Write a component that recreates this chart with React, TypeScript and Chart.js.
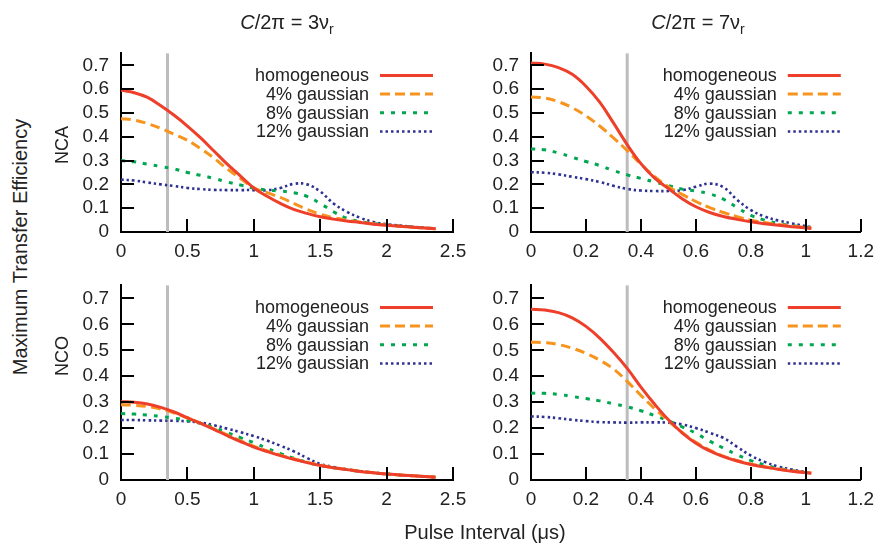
import React, { useEffect, useRef } from "react";
import { Chart, registerables } from "chart.js";
Chart.register(...registerables);

// ---------- data ----------
const seriesLabels = ["homogeneous", "4% gaussian", "8% gaussian", "12% gaussian"];

const xLeft = [0, 0.1, 0.2, 0.3, 0.4, 0.5, 0.6, 0.7, 0.8, 0.9, 1.0, 1.1, 1.2, 1.3, 1.4, 1.5, 1.6, 1.7, 1.8, 1.9, 2.0, 2.2, 2.37];
const xRight = [0, 0.05, 0.1, 0.15, 0.2, 0.25, 0.3, 0.35, 0.4, 0.45, 0.5, 0.55, 0.6, 0.65, 0.7, 0.75, 0.8, 0.85, 0.9, 0.95, 1.02];

const ncaSlowHom = [0.595, 0.585, 0.565, 0.530, 0.490, 0.445, 0.395, 0.340, 0.285, 0.235, 0.185, 0.150, 0.120, 0.095, 0.078, 0.064, 0.054, 0.046, 0.040, 0.033, 0.028, 0.020, 0.014];
const ncaSlowG4 = [0.476, 0.470, 0.455, 0.435, 0.410, 0.385, 0.350, 0.310, 0.265, 0.225, 0.185, 0.165, 0.145, 0.120, 0.095, 0.075, 0.060, 0.050, 0.042, 0.035, 0.029, 0.020, 0.014];
const ncaSlowG8 = [0.300, 0.295, 0.285, 0.275, 0.265, 0.250, 0.238, 0.225, 0.210, 0.197, 0.185, 0.176, 0.172, 0.165, 0.150, 0.120, 0.085, 0.058, 0.044, 0.036, 0.030, 0.021, 0.014];
const ncaSlowG12 = [0.220, 0.216, 0.208, 0.200, 0.193, 0.185, 0.180, 0.177, 0.176, 0.176, 0.176, 0.175, 0.185, 0.202, 0.200, 0.170, 0.120, 0.085, 0.060, 0.042, 0.033, 0.022, 0.014];

const ncaFastHom = [0.710, 0.705, 0.690, 0.662, 0.612, 0.545, 0.458, 0.367, 0.287, 0.226, 0.182, 0.140, 0.106, 0.082, 0.065, 0.053, 0.043, 0.035, 0.028, 0.022, 0.015];
const ncaFastG4 = [0.567, 0.563, 0.547, 0.522, 0.488, 0.445, 0.395, 0.342, 0.285, 0.232, 0.190, 0.158, 0.128, 0.102, 0.082, 0.064, 0.050, 0.040, 0.032, 0.025, 0.017];
const ncaFastG8 = [0.349, 0.345, 0.332, 0.314, 0.296, 0.279, 0.258, 0.240, 0.225, 0.210, 0.195, 0.180, 0.172, 0.160, 0.138, 0.103, 0.070, 0.050, 0.036, 0.027, 0.018];
const ncaFastG12 = [0.251, 0.249, 0.242, 0.232, 0.222, 0.210, 0.194, 0.181, 0.174, 0.172, 0.172, 0.175, 0.190, 0.203, 0.188, 0.135, 0.092, 0.065, 0.048, 0.036, 0.020];

const ncoSlowHom = [0.302, 0.300, 0.293, 0.280, 0.262, 0.240, 0.218, 0.195, 0.171, 0.148, 0.127, 0.110, 0.094, 0.080, 0.067, 0.056, 0.047, 0.040, 0.033, 0.028, 0.023, 0.016, 0.011];
const ncoSlowG4 = [0.290, 0.288, 0.283, 0.273, 0.258, 0.239, 0.219, 0.197, 0.174, 0.151, 0.130, 0.112, 0.096, 0.082, 0.069, 0.058, 0.048, 0.041, 0.034, 0.028, 0.023, 0.016, 0.011];
const ncoSlowG8 = [0.256, 0.254, 0.250, 0.245, 0.238, 0.230, 0.218, 0.202, 0.183, 0.163, 0.144, 0.122, 0.102, 0.084, 0.068, 0.056, 0.047, 0.040, 0.033, 0.028, 0.023, 0.016, 0.011];
const ncoSlowG12 = [0.231, 0.231, 0.230, 0.229, 0.228, 0.226, 0.221, 0.211, 0.198, 0.184, 0.169, 0.152, 0.132, 0.111, 0.085, 0.062, 0.050, 0.041, 0.034, 0.028, 0.023, 0.016, 0.011];

const ncoFastHom = [0.658, 0.655, 0.645, 0.625, 0.592, 0.547, 0.492, 0.430, 0.358, 0.292, 0.232, 0.182, 0.142, 0.112, 0.090, 0.073, 0.060, 0.050, 0.041, 0.034, 0.026];
const ncoFastG4 = [0.531, 0.529, 0.522, 0.508, 0.488, 0.462, 0.428, 0.380, 0.326, 0.275, 0.228, 0.183, 0.145, 0.115, 0.092, 0.075, 0.062, 0.051, 0.042, 0.035, 0.027];
const ncoFastG8 = [0.335, 0.334, 0.330, 0.322, 0.314, 0.305, 0.294, 0.282, 0.267, 0.248, 0.228, 0.205, 0.180, 0.150, 0.123, 0.097, 0.075, 0.058, 0.045, 0.036, 0.026];
const ncoFastG12 = [0.245, 0.243, 0.238, 0.232, 0.227, 0.223, 0.222, 0.221, 0.222, 0.222, 0.221, 0.214, 0.200, 0.182, 0.162, 0.128, 0.094, 0.070, 0.052, 0.040, 0.027];

const xTicksLeft = [0, 0.5, 1, 1.5, 2, 2.5];
const xTicksRight = [0, 0.2, 0.4, 0.6, 0.8, 1, 1.2];
const yTicks = [0, 0.1, 0.2, 0.3, 0.4, 0.5, 0.6, 0.7];
const markerX = 0.35;

// ---------- styles ----------
const FONT = '"Liberation Sans", Arial, Helvetica, sans-serif';
const colors = ["#ee3f2a", "#f7941d", "#00a651", "#2e3192"];
const dashes: number[][] = [[], [10, 5], [4, 7], [2.5, 3]];
const widths = [3, 3, 3, 2.6];

type PanelProps = {
  xs: number[];
  series: number[][];
  xTicks: number[];
  xMax: number;
  box: { left: number; top: number; width: number; height: number };
  area: { left: number; top: number; right: number; bottom: number };
};

function Panel({ xs, series, xTicks, xMax, box, area }: PanelProps) {
  const ref = useRef<HTMLCanvasElement | null>(null);
  useEffect(() => {
    if (!ref.current) return;
    const yAxisW = area.left - box.left;
    const xAxisH = box.top + box.height - area.bottom;
    const padTop = area.top - box.top;
    const padRight = box.left + box.width - area.right;

    const decor = {
      id: "decor",
      beforeDatasetsDraw(chart: any) {
        const { ctx, chartArea: a, scales } = chart;
        const px = scales.x.getPixelForValue(markerX);
        ctx.save();
        ctx.strokeStyle = "#bdbdbd";
        ctx.lineWidth = 3;
        ctx.beginPath();
        ctx.moveTo(px, a.top);
        ctx.lineTo(px, a.bottom);
        ctx.stroke();
        ctx.restore();
      },
      afterDraw(chart: any) {
        const { ctx, chartArea: a, scales } = chart;
        ctx.save();
        ctx.strokeStyle = "#000";
        ctx.lineWidth = 2;
        ctx.beginPath();
        scales.x.ticks.forEach((t: any) => {
          if (t.value === 0) return;
          const px = Math.round(scales.x.getPixelForValue(t.value));
          ctx.moveTo(px, a.bottom);
          ctx.lineTo(px, a.bottom - 13);
        });
        scales.y.ticks.forEach((t: any) => {
          if (t.value === 0) return;
          const py = Math.round(scales.y.getPixelForValue(t.value));
          ctx.moveTo(a.left, py);
          ctx.lineTo(a.left + 13, py);
        });
        ctx.stroke();
        // legend
        ctx.font = `18px ${FONT}`;
        ctx.textAlign = "right";
        ctx.textBaseline = "middle";
        chart.data.datasets.forEach((ds: any, i: number) => {
          const y = a.top + 22 + i * 18.7;
          ctx.fillStyle = "#222";
          ctx.fillText(ds.label, a.right - 84, y + 1);
          ctx.strokeStyle = ds.borderColor;
          ctx.lineWidth = ds.borderWidth;
          ctx.setLineDash(ds.borderDash);
          ctx.beginPath();
          ctx.moveTo(a.right - 73, y);
          ctx.lineTo(a.right - 20, y);
          ctx.stroke();
        });
        ctx.restore();
      },
    };

    const chart = new Chart(ref.current, {
      type: "line",
      data: {
        datasets: series.map((ys, i) => ({
          label: seriesLabels[i],
          data: xs.map((x, j) => ({ x, y: ys[j] })),
          borderColor: colors[i],
          borderDash: dashes[i],
          borderWidth: widths[i],
          pointRadius: 0,
          fill: false,
          tension: 0.4,
        })),
      },
      options: {
        animation: false,
        responsive: false,
        events: [],
        layout: { padding: { top: padTop, right: padRight, left: 0, bottom: 0 } },
        plugins: { legend: { display: false }, tooltip: { enabled: false } },
        scales: {
          x: {
            type: "linear",
            min: 0,
            max: xMax,
            afterBuildTicks: (s: any) => {
              s.ticks = xTicks.map((v) => ({ value: v }));
            },
            afterFit: (s: any) => {
              s.height = xAxisH;
            },
            ticks: {
              color: "#222",
              font: { family: FONT, size: 19 },
              padding: 8,
              maxRotation: 0,
              autoSkip: false,
              callback: (v: any) => String(+(+v).toFixed(2)),
            },
            grid: { display: true, drawOnChartArea: false, drawTicks: false },
            border: { display: true, color: "#000", width: 2 },
          },
          y: {
            type: "linear",
            min: 0,
            max: 0.75,
            afterBuildTicks: (s: any) => {
              s.ticks = yTicks.map((v) => ({ value: v }));
            },
            afterFit: (s: any) => {
              s.width = yAxisW;
            },
            ticks: {
              color: "#222",
              font: { family: FONT, size: 19 },
              padding: 12,
              autoSkip: false,
              callback: (v: any) => String(+(+v).toFixed(2)),
            },
            grid: { display: true, drawOnChartArea: false, drawTicks: false },
            border: { display: true, color: "#000", width: 2 },
          },
        },
      },
      plugins: [decor],
    } as any);
    return () => chart.destroy();
  }, []);
  return (
    <canvas
      ref={ref}
      width={box.width}
      height={box.height}
      style={{ position: "absolute", left: box.left, top: box.top, width: box.width, height: box.height }}
    />
  );
}

const txt: React.CSSProperties = {
  position: "absolute",
  fontFamily: FONT,
  color: "#222",
  whiteSpace: "nowrap",
  lineHeight: 1,
};

function Title({ n, cx }: { n: string; cx: number }) {
  return (
    <div style={{ ...txt, left: cx, top: 12, fontSize: 20, transform: "translateX(-50%)" }}>
      <i>C</i>/2π = {n}ν
      <span style={{ fontSize: 14, position: "relative", top: 5 }}>r</span>
    </div>
  );
}

export default function App() {
  return (
    <div style={{ position: "fixed", left: 0, top: 0, width: 882, height: 543, background: "#fff", overflow: "hidden" }}>
      <Panel
        xs={xLeft}
        series={[ncaSlowHom, ncaSlowG4, ncaSlowG8, ncaSlowG12]}
        xTicks={xTicksLeft}
        xMax={2.5}
        box={{ left: 61, top: 30, width: 420, height: 245 }}
        area={{ left: 121, top: 52, right: 453, bottom: 232 }}
      />
      <Panel
        xs={xRight}
        series={[ncaFastHom, ncaFastG4, ncaFastG8, ncaFastG12]}
        xTicks={xTicksRight}
        xMax={1.2}
        box={{ left: 471, top: 30, width: 411, height: 245 }}
        area={{ left: 531, top: 52, right: 865, bottom: 232 }}
      />
      <Panel
        xs={xLeft}
        series={[ncoSlowHom, ncoSlowG4, ncoSlowG8, ncoSlowG12]}
        xTicks={xTicksLeft}
        xMax={2.5}
        box={{ left: 61, top: 262, width: 420, height: 270 }}
        area={{ left: 121, top: 280, right: 453, bottom: 480 }}
      />
      <Panel
        xs={xRight}
        series={[ncoFastHom, ncoFastG4, ncoFastG8, ncoFastG12]}
        xTicks={xTicksRight}
        xMax={1.2}
        box={{ left: 471, top: 262, width: 411, height: 270 }}
        area={{ left: 531, top: 280, right: 865, bottom: 480 }}
      />
      <Title n="3" cx={287} />
      <Title n="7" cx={698} />
      <div style={{ ...txt, left: 20, top: 247, fontSize: 20, transform: "translate(-50%, -50%) rotate(-90deg)" }}>
        Maximum Transfer Efficiency
      </div>
      <div style={{ ...txt, left: 62, top: 145, fontSize: 18, transform: "translate(-50%, -50%) rotate(-90deg)" }}>NCA</div>
      <div style={{ ...txt, left: 62, top: 356, fontSize: 18, transform: "translate(-50%, -50%) rotate(-90deg)" }}>NCO</div>
      <div style={{ ...txt, left: 485, top: 532, fontSize: 20, transform: "translate(-50%, -50%)" }}>Pulse Interval (μs)</div>
    </div>
  );
}
